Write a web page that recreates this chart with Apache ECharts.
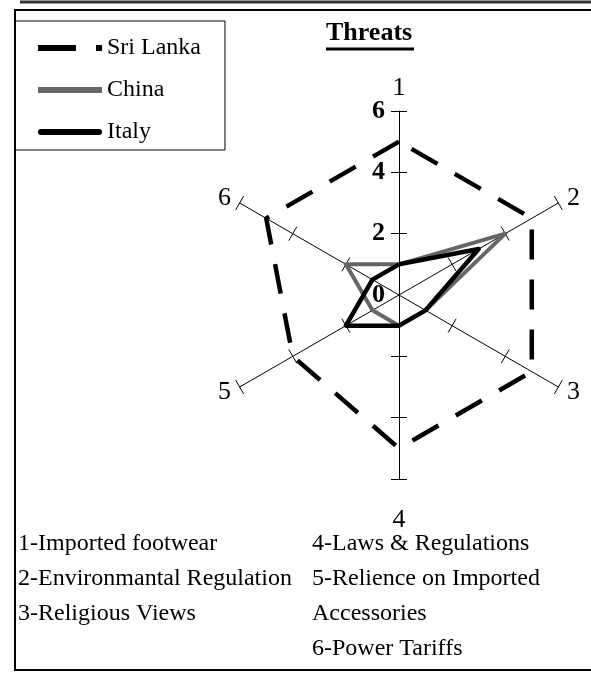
<!DOCTYPE html>
<html>
<head>
<meta charset="utf-8">
<style>
  html, body { margin: 0; padding: 0; background: #fff; }
  #chart { width: 591px; height: 673px; }
</style>
<script src="https://cdn.jsdelivr.net/npm/echarts@6/dist/echarts.min.js"></script>
</head>
<body>
<div id="chart"></div>
<script>
const axisNames = ['1', '2', '3', '4', '5', '6']
const sriLanka = [5, 5, 5, 5, 4, 5]
const china = [1, 4, 1, 1, 1, 2]
const italy = [1, 3, 1, 1, 2, 1]
const axisMin = 0
const axisMax = 6
const tickStep = 2
const tickValues = [2, 4, 6]

const notesLeft = ['1-Imported footwear', '2-Environmantal Regulation', '3-Religious Views']
const notesRight = ['4-Laws & Regulations', '5-Relience on Imported', 'Accessories', '6-Power Tariffs']

const SERIF = '"Liberation Serif", "DejaVu Serif", serif'

// echarts lays indicators out counter-clockwise, the picture goes clockwise
const order = [0, 5, 4, 3, 2, 1]
const reorder = (arr) => order.map((i) => arr[i])

const radarBase = {
  center: [399, 295],
  radius: 184,
  startAngle: 90,
  splitNumber: axisMax / tickStep,
  shape: 'polygon',
  splitLine: { show: false },
  splitArea: { show: false },
}

const chart = echarts.init(document.getElementById('chart'))

const noteText = (text, x, y) => ({
  type: 'text',
  left: x,
  top: y,
  style: { text, font: '24px ' + SERIF, fill: '#000' },
})

chart.setOption({
  animation: false,
  title: {
    text: 'Threats',
    left: 326,
    top: 20,
    padding: 0,
    textStyle: { fontFamily: SERIF, fontSize: 26, fontWeight: 'bold', color: '#000' },
  },
  legend: {
    orient: 'vertical',
    left: 15,
    top: 21,
    padding: [15, 24, 6, 23],
    itemGap: 18,
    itemWidth: 64,
    itemHeight: 6,
    symbolKeepAspect: false,
    borderColor: '#000',
    borderWidth: 1,
    textStyle: { fontFamily: SERIF, fontSize: 24, color: '#000' },
    data: [
      { name: 'Sri Lanka', icon: 'path://M0,0h38v6h-38zM58,0h6v6h-6z', itemStyle: { color: '#000', borderWidth: 0 } },
      { name: 'China', icon: 'path://M0,0h64v6h-64z', itemStyle: { color: '#666', borderWidth: 0 } },
      { name: 'Italy', icon: 'path://M3,0h58a3,3 0 0 1 0,6h-58a3,3 0 0 1 0,-6z', itemStyle: { color: '#000', borderWidth: 0 } },
    ],
  },
  radar: [
    {
      ...radarBase,
      indicator: order.map((i) => ({
        name: axisNames[i],
        min: axisMin,
        max: axisMax,
        nameGap: i === 3 ? 28 : 10,
        axisLabel: i === 0 ? { show: true } : undefined,
      })),
      nameGap: 10,
      axisName: { color: '#000', fontFamily: SERIF, fontSize: 26 },
      axisLine: { lineStyle: { color: '#000', width: 1 } },
      axisTick: { show: true, length: 8, customValues: tickValues, lineStyle: { color: '#000', width: 1 } },
      axisLabel: { show: false, color: '#000', fontFamily: SERIF, fontSize: 26, fontWeight: 'bold', margin: 14 },
    },
    {
      // second copy only to get the tick marks on the other side of each axis
      ...radarBase,
      indicator: order.map(() => ({ name: '', min: axisMin, max: axisMax })),
      axisName: { show: false },
      axisLine: { show: false },
      axisTick: { show: true, length: -8, customValues: tickValues, lineStyle: { color: '#000', width: 1 } },
      axisLabel: { show: false },
    },
  ],
  series: [{
    type: 'radar',
    radarIndex: 0,
    symbol: 'none',
    data: [
      { name: 'Sri Lanka', value: reorder(sriLanka), lineStyle: { color: '#000', width: 4.5, type: [30, 20] }, itemStyle: { color: '#000' } },
      { name: 'China', value: reorder(china), lineStyle: { color: '#666', width: 4 }, itemStyle: { color: '#666' } },
      { name: 'Italy', value: reorder(italy), lineStyle: { color: '#000', width: 4.5, join: 'round' }, itemStyle: { color: '#000' } },
    ],
  }],
  graphic: [
    { type: 'line', shape: { x1: 20, y1: 2, x2: 591, y2: 2 }, style: { stroke: '#333', lineWidth: 3 } },
    { type: 'rect', shape: { x: 15, y: 10, width: 600, height: 660 }, style: { fill: 'none', stroke: '#000', lineWidth: 2 } },
    { type: 'line', shape: { x1: 326, y1: 49, x2: 414, y2: 49 }, style: { stroke: '#000', lineWidth: 3 } },
    ...notesLeft.map((t, i) => noteText(t, 18, 532 + i * 35)),
    ...notesRight.map((t, i) => noteText(t, 312, 532 + i * 35)),
  ],
})
</script>
</body>
</html>
